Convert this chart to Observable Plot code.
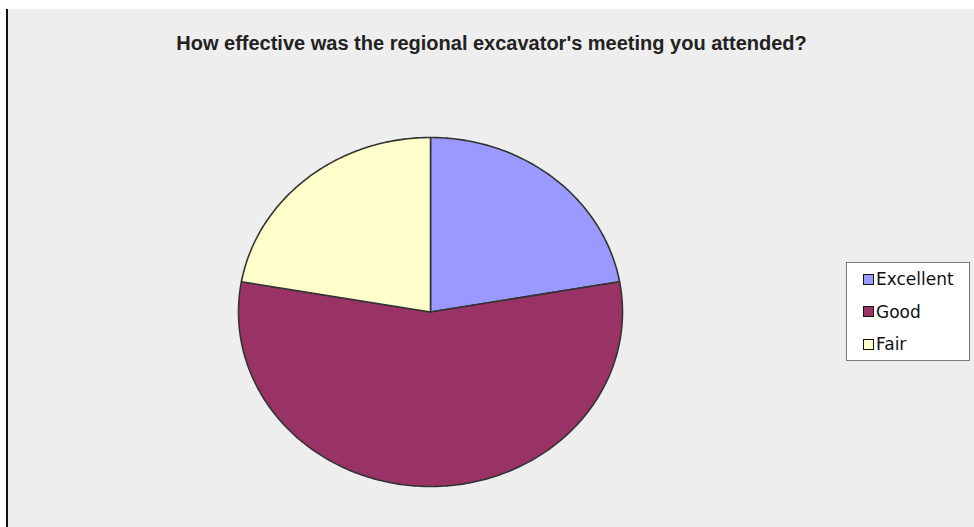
<!DOCTYPE html>
<html>
<head>
<meta charset="utf-8">
<script src="https://cdn.jsdelivr.net/npm/d3@7"></script>
<script src="https://cdn.jsdelivr.net/npm/@observablehq/plot@0.6"></script>
<style>
  html, body { margin: 0; padding: 0; background: #ffffff; }
  #wrap { position: absolute; left: 6px; top: 9px; width: 966px; height: 518px;
          border-left: 2px solid #111; background: #eeeeee; overflow: hidden; }
  #legend { position: absolute; left: 838px; top: 253px; width: 124px; height: 99px;
            background: #ffffff; border: 1px solid #7a7a7a; box-sizing: border-box;
            font-family: "DejaVu Sans", sans-serif; font-size: 17px; color: #111; }
  .item { position: absolute; left: 16px; height: 20px; display: flex; align-items: center; }
  .sw { width: 9px; height: 9px; border: 1.5px solid #111; margin-right: 2px; }
</style>
</head>
<body>
<div id="wrap"><div id="legend"></div></div>
<script>
const title = "How effective was the regional excavator's meeting you attended?";
const categories = ["Excellent", "Good", "Fair"];
const counts = [2, 5, 2];
const colors = ["#9999ff", "#993366", "#ffffcc"];

const arcs = d3.pie().sort(null).value(d => d)(counts);
const slices = arcs.map((a, i) => {
  const pts = [{x: 0, y: 0}];
  const n = Math.max(2, Math.ceil((a.endAngle - a.startAngle) / (Math.PI / 180)));
  for (let k = 0; k <= n; k++) {
    const t = a.startAngle + (a.endAngle - a.startAngle) * k / n;
    pts.push({x: Math.sin(t), y: Math.cos(t)});
  }
  pts.push({x: 0, y: 0});
  return {cat: categories[i], color: colors[i], pts};
});

const chart = Plot.plot({
  width: 966,
  height: 518,
  margin: 0,
  style: {background: "transparent", overflow: "visible"},
  x: {domain: [-1, 1], range: [230, 614], axis: null},
  y: {domain: [-1, 1], range: [477, 128], axis: null},
  marks: [
    ...slices.map(s => Plot.line(s.pts, {x: "x", y: "y", fill: s.color, stroke: "#333333", strokeWidth: 1.6, strokeLinejoin: "round"})),
    Plot.text([title], {frameAnchor: "top", lineAnchor: "middle", dy: 34, text: d => d,
      fontFamily: "Liberation Sans, Arial, sans-serif", fontWeight: "bold", fontSize: 20, fill: "#222"})
  ]
});
chart.style.position = "absolute";
chart.style.left = "0px";
chart.style.top = "0px";
document.getElementById("wrap").appendChild(chart);

const legend = document.getElementById("legend");
const ys = [16, 48.5, 81];
categories.forEach((c, i) => {
  const it = document.createElement("div");
  it.className = "item";
  it.style.top = (ys[i] - 10) + "px";
  const sw = document.createElement("div");
  sw.className = "sw";
  sw.style.background = colors[i];
  const tx = document.createElement("span");
  tx.textContent = c;
  it.appendChild(sw); it.appendChild(tx);
  legend.appendChild(it);
});
</script>
</body>
</html>
